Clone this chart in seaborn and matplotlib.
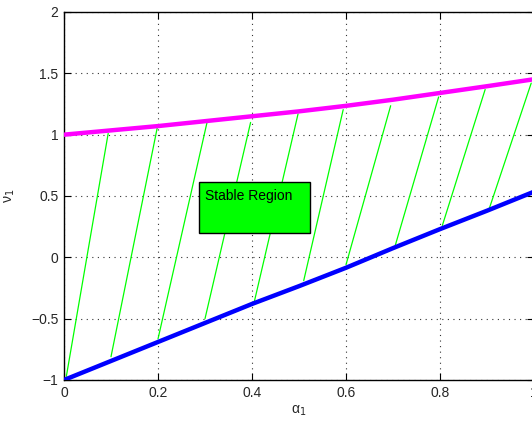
import numpy as np
import pandas as pd
import seaborn as sns
import matplotlib
matplotlib.use('Agg')
import matplotlib.pyplot as plt
from matplotlib.patches import Rectangle

# boundary curves
alpha = [0.0, 0.1, 0.2, 0.3, 0.4, 0.5, 0.6, 0.7, 0.8, 0.9, 1.0]
upper = [1.0, 1.035, 1.07, 1.11, 1.15, 1.19, 1.235, 1.285, 1.34, 1.395, 1.452]
lower = [-1.0, -0.845, -0.69, -0.535, -0.38, -0.235, -0.085, 0.075, 0.23, 0.38, 0.535]

# hatch segments (start on lower curve, end on upper curve)
hatch_x0 = [0.005, 0.10, 0.20, 0.30, 0.405, 0.51, 0.60, 0.705, 0.805, 0.905]
hatch_y0 = [-0.97, -0.81, -0.665, -0.50, -0.36, -0.19, -0.06, 0.10, 0.26, 0.40]
hatch_x1 = [0.094, 0.199, 0.304, 0.397, 0.498, 0.594, 0.695, 0.797, 0.896, 0.994]
hatch_y1 = [1.01, 1.068, 1.095, 1.10, 1.17, 1.204, 1.236, 1.307, 1.368, 1.42]

xticks = [0, 0.2, 0.4, 0.6, 0.8, 1]
yticks = [-1, -0.5, 0, 0.5, 1, 1.5, 2]

sns.set_style('white')
plt.rcParams['font.family'] = ['Liberation Sans', 'DejaVu Sans']
plt.rcParams['axes.unicode_minus'] = True

fig = plt.figure(figsize=(5.32, 4.21), dpi=100)
ax = fig.add_axes([0.1203, 0.0974, 0.8835, 0.8741])

# hatching
hatch = pd.DataFrame({
    'seg': list(range(len(hatch_x0))) * 2,
    'x': hatch_x0 + hatch_x1,
    'y': hatch_y0 + hatch_y1,
})
sns.lineplot(data=hatch, x='x', y='y', units='seg', estimator=None,
             color='#00ff00', lw=0.9, sort=False, ax=ax, zorder=2)

curves = pd.DataFrame({'alpha': alpha, 'upper': upper, 'lower': lower})
sns.lineplot(data=curves, x='alpha', y='upper', color='#ff00ff', lw=3.2,
             ax=ax, zorder=3)
sns.lineplot(data=curves, x='alpha', y='lower', color='#0000ff', lw=3.2,
             ax=ax, zorder=3)

# text box
ax.add_patch(Rectangle((0.287, 0.199), 0.236, 0.412, facecolor='#00ff00',
                       edgecolor='black', lw=1.0, zorder=4))
ax.text(0.30, 0.47, 'Stable Region', fontsize=10, color='black',
        va='baseline', ha='left', zorder=5)

ax.set_xlim(0, 1)
ax.set_ylim(-1, 2)
ax.set_xticks(xticks)
ax.set_yticks(yticks)
ax.set_xticklabels(['0', '0.2', '0.4', '0.6', '0.8', '1'], fontsize=10)
ax.set_yticklabels(['\u22121', '\u22120.5', '0', '0.5', '1', '1.5', '2'], fontsize=10)
ax.tick_params(direction='in', length=5, width=0.8, top=True, right=True,
               bottom=True, left=True, color='black', pad=4)
ax.grid(True, linestyle=(0, (1, 4)), color='#333333', lw=0.8)
for s in ax.spines.values():
    s.set_color('black')
    s.set_linewidth(1.0)

ax.set_xlabel('\u03b1$_1$', fontsize=10, labelpad=3)
ax.set_ylabel('\u03bd$_1$', fontsize=10, labelpad=10)

fig.savefig('out.png', dpi=100)
